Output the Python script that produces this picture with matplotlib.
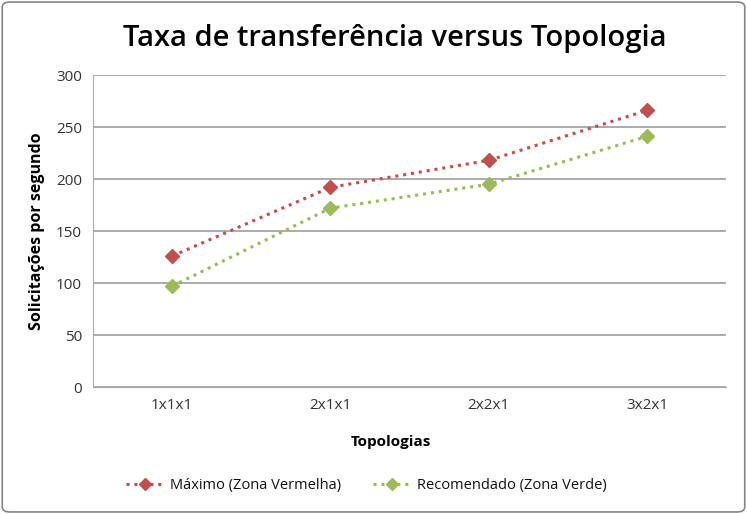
import matplotlib.pyplot as plt
from matplotlib.patches import FancyBboxPatch

categories = ["1x1x1", "2x1x1", "2x2x1", "3x2x1"]
maximo = [126, 192, 218, 266]
recomendado = [97, 172, 195, 241]
y_ticks = [0, 50, 100, 150, 200, 250, 300]

plt.rcParams['font.family'] = ['Open Sans', 'DejaVu Sans']

fig = plt.figure(figsize=(7.47, 5.14), dpi=100)
ax = fig.add_axes([0.1245, 0.247, 0.8475, 0.607])

x = range(len(categories))
ax.plot(x, maximo, linestyle=(0, (1, 1.6)), linewidth=2.2, color='#C0504D',
        marker='D', markersize=7, label='Máximo (Zona Vermelha)')
ax.plot(x, recomendado, linestyle=(0, (1, 1.6)), linewidth=2.2, color='#9BBB59',
        marker='D', markersize=7, label='Recomendado (Zona Verde)')

ax.set_xlim(-0.5, len(categories) - 0.5)
ax.set_ylim(0, 300)
ax.set_yticks(y_ticks)
ax.set_xticks(list(x))
ax.set_xticklabels(categories)
ax.tick_params(axis='both', length=0, labelsize=11, colors='#333333', pad=8)
ax.yaxis.grid(True, color='#A6A6A6', linewidth=1.3)
ax.set_axisbelow(True)
for s in ['top', 'right']:
    ax.spines[s].set_visible(False)
ax.spines['left'].set_color('#95B3D7')
ax.spines['bottom'].set_color('#A6A6A6')

ax.set_ylabel('Solicitações por segundo', fontsize=11.5, fontweight='bold', labelpad=8)
ax.set_xlabel('Topologias', fontsize=11, fontweight='bold', labelpad=12)
ax.xaxis.set_label_coords(0.47, -0.155)

fig.text(0.528, 0.925, 'Taxa de transferência versus Topologia', ha='center', va='center',
         fontsize=21, fontweight='semibold')

fig.legend(loc='center', bbox_to_anchor=(0.49, 0.055), ncol=2, frameon=False,
           fontsize=10.5, columnspacing=2.2, handlelength=2.6, handletextpad=0.4,
           markerscale=0.85, labelcolor='#111111')

border = FancyBboxPatch((0.003, 0.004), 0.994, 0.992, boxstyle='round,pad=0,rounding_size=0.01',
                        transform=fig.transFigure, fill=False, edgecolor='#868686', linewidth=1.2)
fig.patches.append(border)

plt.savefig('out.png', dpi=100)
